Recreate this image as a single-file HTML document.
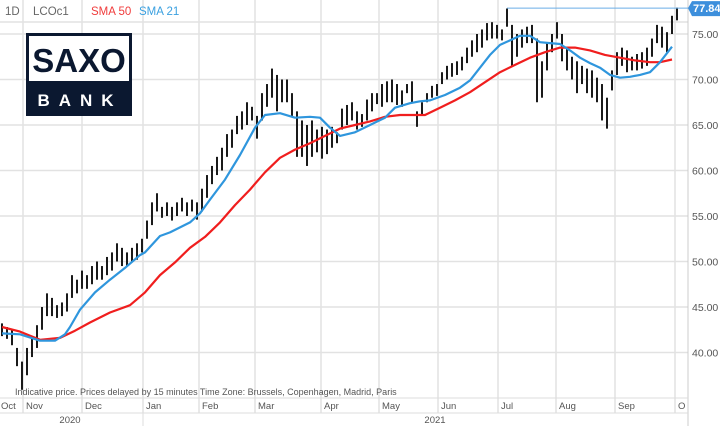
<!DOCTYPE html>
<html><head><meta charset="utf-8"><style>
body{margin:0;background:#fff;}
#c{position:relative;width:720px;height:426px;overflow:hidden;font-family:"Liberation Sans",sans-serif;}
svg{position:absolute;left:0;top:0}
</style></head><body>
<div id="c">
<svg id="s" width="720" height="426"></svg>
</div>
<script>
const highs=[43.2,42.8,42.5,40.5,39,40.5,41.5,43,45,46.5,46,45.2,45.5,46.5,48.5,48,49,48.5,49.5,50,49.5,50.5,51,52,51.5,51,51.5,52,52.5,54.5,56.5,57.5,56,56.5,56,56.5,57,56.5,56.8,56.5,58,59.5,60.5,61.5,62.5,64,64.5,66,66.5,67.5,67,66,68.5,69.5,71.2,70.5,70,70,68.5,66.5,65.5,65,65.5,64.5,64.8,64.5,64.8,64.2,66.8,67.2,67.5,66.5,66.2,67.8,68.5,68.5,69.5,69.8,70,69.5,68.8,69.5,69.8,66.5,67.5,68.5,69.3,69.5,70.8,71.5,71.8,72,72.5,73.5,74.3,75,75.5,76.2,76.3,76,75.5,77.8,76,75,75.5,75.8,76,74.5,72,74,75,76.3,75,73.5,72.5,72,71.5,71.2,71,70.2,69.5,68,71,73,73.5,73.2,72.5,72.8,73,73.5,74.5,76,75.8,75.2,77,77.9];
const lows=[41.8,41.5,40.8,38.5,35.9,37.5,39.5,40.5,42.5,44,44,43.8,44,44.5,46,46.5,47,47,47.5,48,48,48.5,49,50,49.5,49.5,50,50.2,51,52.5,54,55.5,54.8,55,54.5,55,55.5,55,55.5,54.6,55.5,57,58.5,59.5,60,61.5,62.5,64,64.5,65,65.5,63.5,65.5,67,68,66.5,67.5,67.5,66,61.5,61.5,60.5,61.5,62,61.3,61.8,62.5,63,64.5,65,65.5,64.5,64.8,65.5,66.5,67.3,67,67.5,67.5,67.2,67,68.5,67.5,64.8,66,67.5,68,68.2,69.5,70,70.3,70.5,71,71.8,72.5,73,73.5,74.3,74.5,74.5,74.3,75.8,71.5,72.5,73.5,74,74,67.5,68,71,73,74.5,72,71,70,68.5,69.5,68.5,68,67.5,65.5,64.6,68.8,70.5,71.5,70.8,71,71,71.2,71.5,72.5,74,73.5,73,75,76.5];
const sma21Idx=[0,3.6,7.6,10.6,12.6,13.6,15.6,18.6,21.6,24.6,27.6,28.6,31.6,33.6,37.6,39.6,41.6,44.6,47.6,50.6,52.6,55.6,58.6,61.6,63.6,65.6,67.6,70.6,73.6,76.6,78.6,81.6,83.6,85.6,88.6,91.6,93.6,95.6,97.6,99.6,101.6,103.6,105.6,107.6,109.6,111.6,113.6,115.6,117.6,119.6,121.6,123.6,125.6,127.6,129.6,131.6,134];
const sma21Val=[42.1,42,41.3,41.3,42,42.8,44.7,46.6,48,49.3,50.7,51,52.8,53.2,54.3,55.3,56.8,59,61.7,64.7,66.1,66.3,65.8,65.9,65.8,64.7,63.8,64.2,65,65.8,66.9,67.4,67.6,67.7,68.3,69.1,69.9,71.3,72.7,73.8,74.3,74.8,74.8,74.1,74,73.9,73.2,72.4,71.8,71.3,70.5,70.2,70.3,70.5,70.8,71.9,73.6];
const sma50Idx=[0,3.6,7.6,11.6,14.6,17.6,21.6,25.6,28.6,31.6,34.6,37.6,40.6,43.6,46.6,49.6,52.6,55.6,58.6,61.6,64.6,67.6,70.6,73.6,76.6,79.6,82.6,84.6,87.6,90.6,93.6,96.6,99.6,102.6,105.6,108.6,111.6,114.6,117.6,120.6,123.6,126.6,129.6,131.6,134];
const sma50Val=[42.8,42.3,41.4,41.6,42.4,43.3,44.4,45.2,46.6,48.5,49.9,51.5,52.7,54.3,56.2,57.9,59.8,61.4,62.3,63,63.8,64.6,65,65.4,65.9,66.1,66.1,66.1,66.9,67.7,68.6,69.7,70.8,71.6,72.4,73,73.5,73.5,73.2,72.7,72.4,72.1,71.9,71.9,72.2];
const priceTicks=[75,70,65,60,55,50,45,40];
const tickLabels=["75.00","70.00","65.00","60.00","55.00","50.00","45.00","40.00"];
const months=["Oct","Nov","Dec","Jan","Feb","Mar","Apr","May","Jun","Jul","Aug","Sep","O"];
const monthBarIdx=[0,4.2,16,28.2,39.4,50.6,63.8,75.4,87.2,99.2,110.8,122.6,134.6];
const lastPrice=77.84;

const NS="http://www.w3.org/2000/svg";
const s=document.getElementById('s');
const yS=p=>34+(75-p)*9.1;
const xS=i=>2+i*5;
function mk(t,a,parent){const e=document.createElementNS(NS,t);for(const k in a)e.setAttribute(k,a[k]);(parent||s).appendChild(e);return e;}

priceTicks.forEach((p,i)=>{
  const l=mk('line',{x1:0,x2:688,y1:yS(p),y2:yS(p),stroke:'#e2e2e2','stroke-width':1.5});
  
  
  const t=mk('text',{x:692,y:yS(p)+4,'font-size':10.5,fill:'#555'});
  t.textContent=tickLabels[i];
  
  
});
mk('line',{x1:0,x2:688,y1:22,y2:22,stroke:'#e2e2e2','stroke-width':1.5});
months.forEach((m,i)=>{
  const x=xS(monthBarIdx[i])+ (i===0?-2:0);
  if(i>0){
    const l=mk('line',{x1:x,x2:x,y1:0,y2:413,stroke:'#e2e2e2','stroke-width':1.5});
    
    
  }
  const t=mk('text',{x:x+(i===0?1:3),y:409,'font-size':9.5,fill:'#555'});
  t.textContent=m;
  
  
});
mk('line',{x1:688,x2:688,y1:0,y2:426,stroke:'#ccc','stroke-width':1});
mk('line',{x1:0,x2:688,y1:398,y2:398,stroke:'#ddd','stroke-width':1});
mk('line',{x1:0,x2:688,y1:413,y2:413,stroke:'#ddd','stroke-width':1});
mk('line',{x1:xS(28.2),x2:xS(28.2),y1:413,y2:426,stroke:'#ddd','stroke-width':1});
[['2020',70],['2021',435]].forEach(([y,x])=>{
  const t=mk('text',{x:x,y:423,'font-size':9.5,fill:'#555','text-anchor':'middle'});
  t.textContent=y;
  
  
});
highs.forEach((h,i)=>{
  const r=mk('rect',{x:xS(i)-1,y:yS(h),width:2,height:Math.max(1,yS(lows[i])-yS(h)),fill:'#1a1a1a'});
  
  
});
function line(idx,val,color,name){
  const d=idx.map((v,i)=>(i?'L':'M')+xS(v).toFixed(1)+' '+yS(val[i]).toFixed(1)).join(' ');
  const p=mk('path',{d:d,fill:'none',stroke:color,'stroke-width':2.2,'stroke-linejoin':'round'});
  
  
}
line(sma50Idx,sma50Val,'#f01e1e','sma-50-line');
line(sma21Idx,sma21Val,'#2f96dd','sma-21-line');
const lp=mk('line',{x1:xS(101),x2:688,y1:yS(lastPrice),y2:yS(lastPrice),stroke:'#6aaee6','stroke-width':1});


const lb=mk('path',{d:`M688 ${yS(lastPrice)} L692 ${yS(lastPrice)-7} L720 ${yS(lastPrice)-7} L720 ${yS(lastPrice)+8} L692 ${yS(lastPrice)+8} Z`,fill:'#3d8fdc'});


const lt=mk('text',{x:693,y:yS(lastPrice)+4,'font-size':11,'font-weight':'bold',fill:'#fff'});
lt.textContent=lastPrice.toFixed(2);


[['1D',5,'#666','timeframe-label'],['LCOc1',33,'#666','symbol-label'],['SMA 50',91,'#f03c3c','legend-sma-50'],['SMA 21',139,'#3aa0e0','legend-sma-21']].forEach(([t,x,c,n])=>{
  const e=mk('text',{x:x,y:15,'font-size':11.5,fill:c});
  e.textContent=t;
  
  
});
const ft=mk('text',{x:15,y:395,'font-size':9,fill:'#555'});
ft.textContent='Indicative price. Prices delayed by 15 minutes    Time Zone: Brussels, Copenhagen, Madrid, Paris';
ft.setAttribute('xml:space','preserve');


const g=mk('g',{});


mk('rect',{x:26,y:33,width:106,height:83,fill:'#0b1830'},g);
mk('rect',{x:29,y:36,width:100,height:45,fill:'#fff'},g);
const t1=mk('text',{x:79,y:72,'font-size':33,'font-weight':'bold',fill:'#0b1830','text-anchor':'middle'},g);
t1.textContent='SAXO';
const t2=mk('text',{x:80,y:106,'font-size':17,'font-weight':'bold',fill:'#fff','text-anchor':'middle','letter-spacing':9},g);
t2.textContent='BANK';
</script>
</body></html>
